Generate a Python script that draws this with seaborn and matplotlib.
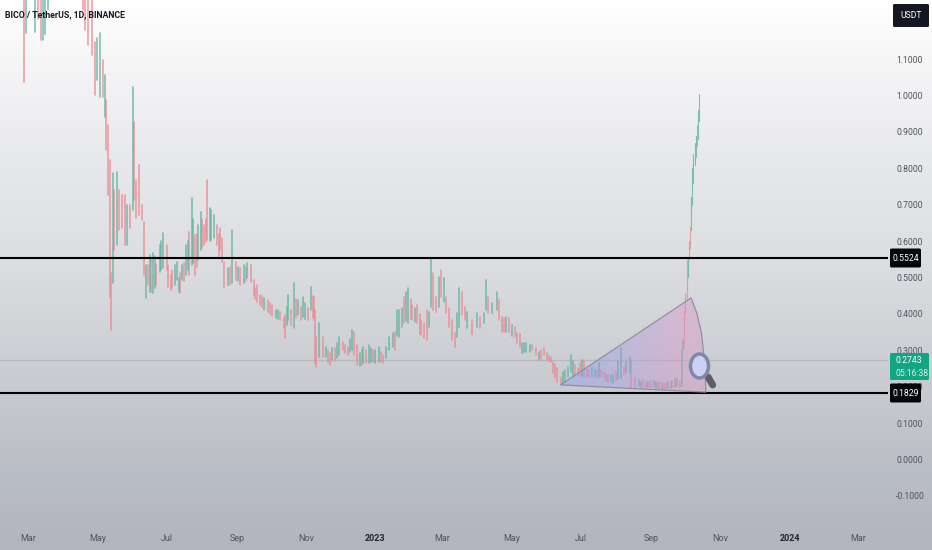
import numpy as np
import pandas as pd
import seaborn as sns
import matplotlib.pyplot as plt
from matplotlib.patches import Polygon, FancyBboxPatch, Ellipse

sns.set_theme(style="white")
plt.rcParams["font.family"] = ["Roboto", "DejaVu Sans"]

# candles, day = days after 2022-03-01
day = [-4, -2, 6, 9, 11, 13, 15, 18, 48, 50, 53, 56, 59, 61, 63, 66, 68, 69, 70, 72, 73, 75, 76, 78, 80, 83, 85, 87, 90, 92,
       93, 95, 98, 100, 102, 104, 106, 107, 110, 113, 116, 119, 122, 123, 126, 129, 131, 134, 136, 139, 142, 144, 147, 150, 152,
       155, 157, 158, 161, 164, 166, 169, 171, 173, 176, 180, 183, 187, 190, 193, 196, 199, 202, 204, 208, 211, 215, 218, 222, 225,
       226, 229, 232, 234, 238, 240, 242, 247, 249, 252, 253, 254, 256, 260, 262, 266, 268, 270, 274, 277, 282, 285, 287, 290, 292,
       295, 298, 300, 304, 306, 309, 313, 315, 318, 321, 323, 327, 329, 331, 335, 338, 341, 343, 346, 349, 351, 353, 355, 357, 359,
       362, 364, 366, 368, 371, 373, 376, 378, 380, 382, 385, 387, 391, 395, 398, 402, 403, 405, 409, 413, 415, 417, 421, 424, 429,
       431, 435, 439, 444, 447, 450, 454, 457, 461, 462, 466, 469, 473, 476, 478, 482, 484, 488, 490, 494, 497, 501, 503, 507, 511,
       515, 518, 522, 525, 527, 530, 531, 535, 538, 542, 545, 549, 553, 556, 560, 564, 567, 572, 574, 576, 577, 578, 579, 580, 581,
       582, 583, 584, 585, 586, 587, 588, 589, 590, 591]
high = [1.40, 1.35, 1.35, 1.35, 1.35, 1.35, 1.35, 1.35, 1.50, 1.45, 1.40, 1.30, 1.147, 1.158, 1.172, 1.097, 1.056, 0.987, 0.919, 0.823, 0.512, 0.787, 0.74, 0.79, 0.74, 0.727, 0.727, 0.70, 0.70, 1.023,
        0.927, 0.768, 0.809, 0.70, 0.653, 0.534, 0.534, 0.562, 0.567, 0.534, 0.589, 0.622, 0.589, 0.534, 0.507, 0.534, 0.543, 0.512, 0.534, 0.589, 0.625, 0.718, 0.617, 0.644, 0.68,
        0.644, 0.66, 0.768, 0.686, 0.672, 0.644, 0.636, 0.609, 0.543, 0.526, 0.63, 0.543, 0.526, 0.534, 0.54, 0.534, 0.493, 0.48, 0.452, 0.444, 0.438, 0.424, 0.411, 0.405, 0.389,
        0.397, 0.452, 0.411, 0.485, 0.438, 0.419, 0.446, 0.416, 0.474, 0.446, 0.411, 0.337, 0.375, 0.337, 0.309, 0.293, 0.306, 0.306, 0.337, 0.323, 0.309, 0.356, 0.35, 0.315, 0.293,
        0.309, 0.301, 0.315, 0.301, 0.301, 0.309, 0.287, 0.309, 0.337, 0.348, 0.35, 0.411, 0.416, 0.446, 0.471, 0.424, 0.416, 0.424, 0.383, 0.375, 0.411, 0.405, 0.553, 0.512, 0.446,
        0.501, 0.52, 0.499, 0.446, 0.416, 0.383, 0.348, 0.402, 0.471, 0.46, 0.419, 0.405, 0.383, 0.402, 0.391, 0.402, 0.493, 0.446, 0.43, 0.46, 0.438, 0.391, 0.391, 0.389, 0.364,
        0.348, 0.32, 0.32, 0.315, 0.306, 0.295, 0.306, 0.293, 0.282, 0.268, 0.251, 0.227, 0.246, 0.254, 0.287, 0.26, 0.251, 0.273, 0.273, 0.246, 0.251, 0.246, 0.265, 0.24, 0.232,
        0.232, 0.24, 0.306, 0.254, 0.268, 0.282, 0.273, 0.224, 0.218, 0.218, 0.213, 0.216, 0.213, 0.213, 0.207, 0.213, 0.216, 0.224, 0.216, 0.301, 0.328, 0.411, 0.457, 0.548, 0.556,
        0.60, 0.64, 0.72, 0.80, 0.84, 0.87, 0.89, 0.92, 0.96, 1.005]
low = [1.037, 1.172, 1.174, 1.21, 1.152, 1.152, 1.17, 1.235, 1.235, 1.18, 1.139, 1.111, 1.001, 1.043, 0.996, 0.996, 0.941, 0.85, 0.727, 0.446, 0.356, 0.485, 0.576, 0.59, 0.63, 0.636, 0.59, 0.59, 0.636, 0.686,
       0.713, 0.663, 0.672, 0.658, 0.507, 0.444, 0.48, 0.46, 0.457, 0.48, 0.515, 0.526, 0.52, 0.474, 0.466, 0.48, 0.493, 0.457, 0.493, 0.507, 0.507, 0.534, 0.507, 0.548, 0.576,
       0.589, 0.598, 0.603, 0.603, 0.609, 0.589, 0.575, 0.543, 0.471, 0.48, 0.485, 0.493, 0.48, 0.485, 0.499, 0.488, 0.452, 0.433, 0.424, 0.411, 0.405, 0.394, 0.389, 0.383, 0.361,
       0.334, 0.383, 0.369, 0.361, 0.397, 0.383, 0.391, 0.383, 0.411, 0.383, 0.265, 0.254, 0.282, 0.282, 0.282, 0.26, 0.273, 0.273, 0.287, 0.301, 0.287, 0.301, 0.287, 0.26, 0.257,
       0.265, 0.265, 0.265, 0.268, 0.265, 0.268, 0.265, 0.279, 0.301, 0.309, 0.301, 0.337, 0.364, 0.375, 0.375, 0.383, 0.378, 0.375, 0.342, 0.334, 0.328, 0.364, 0.419, 0.411, 0.405,
       0.419, 0.446, 0.433, 0.402, 0.364, 0.328, 0.309, 0.337, 0.364, 0.397, 0.383, 0.361, 0.342, 0.364, 0.361, 0.375, 0.411, 0.402, 0.402, 0.411, 0.383, 0.35, 0.35, 0.35, 0.337,
       0.32, 0.293, 0.295, 0.301, 0.287, 0.273, 0.287, 0.273, 0.268, 0.238, 0.213, 0.207, 0.213, 0.227, 0.24, 0.232, 0.232, 0.227, 0.227, 0.227, 0.227, 0.224, 0.227, 0.224, 0.213,
       0.21, 0.218, 0.224, 0.232, 0.238, 0.238, 0.196, 0.196, 0.202, 0.199, 0.199, 0.199, 0.196, 0.196, 0.193, 0.196, 0.199, 0.202, 0.199, 0.202, 0.301, 0.309, 0.402, 0.438, 0.501,
       0.55, 0.58, 0.63, 0.70, 0.76, 0.81, 0.83, 0.86, 0.88, 0.93]
direction = [0, 1, 1, 0, 0, 1, 1, 1, 0, 0, 0, 0, 0, 1, 1, 0, 1, 0, 0, 0, 0, 1, 0, 1, 0, 0, 0, 1, 0, 1,
             0, 0, 0, 0, 0, 1, 0, 1, 1, 0, 1, 1, 0, 0, 0, 1, 1, 0, 1, 1, 0, 1, 0, 1, 1,
             0, 0, 0, 1, 1, 0, 0, 0, 0, 1, 1, 0, 0, 1, 1, 0, 0, 0, 0, 1, 0, 0, 1, 0, 0,
             0, 1, 0, 1, 1, 0, 1, 0, 1, 0, 0, 0, 1, 0, 1, 0, 1, 0, 1, 0, 0, 1, 0, 0, 1,
             1, 0, 1, 0, 1, 1, 0, 1, 1, 1, 0, 1, 1, 0, 1, 0, 1, 0, 0, 0, 0, 1, 1, 0, 0,
             1, 0, 1, 0, 0, 0, 0, 1, 1, 0, 0, 1, 0, 1, 0, 1, 1, 0, 1, 1, 0, 0, 1, 0, 0,
             0, 1, 1, 0, 0, 1, 0, 0, 0, 0, 0, 0, 1, 1, 1, 0, 0, 1, 0, 0, 1, 0, 1, 0, 0,
             1, 0, 1, 0, 1, 1, 0, 0, 1, 0, 1, 0, 1, 0, 0, 1, 0, 1, 0, 1, 1, 0, 0, 0, 1,
             0, 0, 1, 1, 1, 1, 1, 0, 1, 1]

# extra candles in the dense stretches
extra_day = [108, 112, 117, 127, 133, 137, 141, 145, 149, 153, 160, 168, 178, 185, 192, 200, 206, 213, 220, 228, 236, 244, 251,
             264, 272, 279, 284, 294, 302, 311, 325, 333, 337, 345, 419, 426, 433, 437, 442, 452, 459, 464, 471, 480, 486,
             492, 499, 505, 509, 513, 520, 540, 544, 547, 551, 555, 558, 562, 566, 570]
extra_high = [0.55, 0.56, 0.60, 0.52, 0.50, 0.54, 0.60, 0.66, 0.62, 0.66, 0.69, 0.62, 0.53, 0.53, 0.53, 0.47, 0.45, 0.43, 0.41, 0.42, 0.44, 0.43, 0.45,
              0.30, 0.32, 0.315, 0.33, 0.30, 0.305, 0.295, 0.41, 0.46, 0.44, 0.40, 0.39, 0.37, 0.345, 0.32, 0.315, 0.30, 0.285, 0.262, 0.24, 0.27, 0.265,
              0.25, 0.25, 0.245, 0.236, 0.232, 0.27, 0.214, 0.212, 0.214, 0.215, 0.212, 0.21, 0.21, 0.214, 0.22]
extra_low = [0.46, 0.47, 0.52, 0.47, 0.46, 0.49, 0.52, 0.54, 0.53, 0.58, 0.60, 0.56, 0.48, 0.49, 0.49, 0.44, 0.42, 0.40, 0.385, 0.37, 0.39, 0.385, 0.39,
             0.268, 0.28, 0.292, 0.295, 0.26, 0.268, 0.268, 0.34, 0.38, 0.385, 0.345, 0.35, 0.34, 0.31, 0.295, 0.295, 0.275, 0.27, 0.225, 0.208, 0.23, 0.23,
             0.228, 0.226, 0.226, 0.216, 0.212, 0.222, 0.199, 0.198, 0.20, 0.198, 0.196, 0.195, 0.194, 0.197, 0.20]
extra_direction = [0, 1, 1, 0, 1, 0, 1, 1, 0, 0, 1, 0, 0, 1, 0, 0, 0, 0, 1, 1, 0, 1, 0,
                   0, 1, 0, 1, 0, 1, 0, 1, 1, 0, 0, 0, 1, 0, 1, 1, 0, 0, 0, 1, 1, 0,
                   0, 1, 0, 0, 1, 1, 1, 0, 0, 1, 0, 1, 0, 1, 1]

level_prices = [0.5524, 0.1829]
last_price = 0.2743
price_ticks = [1.1, 1.0, 0.9, 0.8, 0.7, 0.6, 0.5, 0.4, 0.3, 0.2, 0.1, 0.0, -0.1]
month_dates = ["2022-03-01", "2022-05-01", "2022-07-01", "2022-09-01", "2022-11-01", "2023-01-01", "2023-03-01",
               "2023-05-01", "2023-07-01", "2023-09-01", "2023-11-01", "2024-01-01", "2024-03-01"]
month_labels = ["Mar", "May", "Jul", "Sep", "Nov", "2023", "Mar", "May", "Jul", "Sep", "Nov", "2024", "Mar"]

# drawn fan shape
fan_days = [469, 584, 589, 593, 596, 597]
fan_prices = [0.205, 0.444, 0.402, 0.35, 0.265, 0.185]

start = pd.Timestamp("2022-03-01")
to_date = lambda d: start + pd.Timedelta(days=d)

fig = plt.figure(figsize=(9.32, 5.5), dpi=100)

# background gradient over the whole picture
bg = fig.add_axes([0, 0, 1, 1], zorder=0)
shades = np.array([[1.0, 1.0, 1.0], [0.96, 0.96, 0.965], [0.905, 0.91, 0.92], [0.865, 0.87, 0.88],
                   [0.785, 0.795, 0.815], [0.725, 0.74, 0.77], [0.70, 0.71, 0.745]])
stops = np.array([0, 0.12, 0.3, 0.47, 0.7, 0.87, 1.0])
rows = np.linspace(0, 1, 256)
grad = np.stack([np.interp(rows, stops, shades[:, i]) for i in range(3)], axis=1)[:, None, :]
bg.imshow(grad, aspect="auto", extent=[0, 1, 0, 1])
bg.axis("off")

ax = fig.add_axes([0, 40 / 550, 888 / 932, 510 / 550], zorder=1)
ax.patch.set_alpha(0)

# candles as long table, one unit per wick
frame = pd.DataFrame({"day": day + extra_day, "high": high + extra_high, "low": low + extra_low,
                      "up": direction + extra_direction})
frame = frame.sort_values("day").reset_index(drop=True)
frame["candle"] = frame.index
frame["date"] = frame["day"].map(to_date)
frame["side"] = frame["up"].map({1: "up", 0: "down"})
long = frame.melt(id_vars=["candle", "day", "date", "side"], value_vars=["high", "low"], value_name="price")
candle_colors = {"up": "#62b3a2", "down": "#e98a92"}
sns.lineplot(data=long[long["day"] < 578], x="date", y="price", hue="side", units="candle", estimator=None,
             palette=candle_colors, linewidth=1.2, alpha=0.8, legend=False, ax=ax, zorder=3)
# the last run up is thinner
sns.lineplot(data=long[long["day"] >= 578], x="date", y="price", hue="side", units="candle", estimator=None,
             palette=candle_colors, linewidth=0.8, alpha=0.8, legend=False, ax=ax, zorder=3)

# levels
ax.axhline(last_price, color="#b6babd", linewidth=1, zorder=2)
for lv in level_prices:
    ax.axhline(lv, color="black", linewidth=1.5, zorder=5)

ax.set_xlim(to_date(-24.7), to_date(757.4))
ax.set_ylim(-0.1387, 1.2624)

# fan with blue to pink fill
fan_x = [to_date(d) for d in fan_days]
fan = Polygon(np.column_stack([pd.to_datetime(fan_x).map(lambda t: ax.xaxis.convert_units(t)), fan_prices]),
              closed=True, facecolor="none", edgecolor="#8a8aa2", linewidth=0.9, zorder=6, transform=ax.transData, alpha=0.9)
ax.add_patch(fan)
fan_colors = np.array([[[0.58, 0.62, 0.92, 0.45], [0.70, 0.60, 0.88, 0.42], [0.86, 0.58, 0.78, 0.42]]])
x0, x1 = ax.xaxis.convert_units(to_date(469)), ax.xaxis.convert_units(to_date(597))
img = ax.imshow(fan_colors, aspect="auto", extent=[x0, x1, 0.18, 0.45], zorder=4, interpolation="bilinear")
img.set_clip_path(fan)
ax.set_xlim(to_date(-24.7), to_date(757.4))
ax.set_ylim(-0.1387, 1.2624)

# magnifier handle
ax.plot([to_date(599), to_date(603)], [0.2266, 0.2047], color="#5a6066", linewidth=5, solid_capstyle="round", zorder=7)

# axes text
sns.despine(ax=ax, left=True, bottom=True, right=True, top=True)
ax.set_xlabel("")
ax.set_ylabel("")
ax.yaxis.tick_right()
ax.set_yticks(price_ticks)
ax.set_yticklabels([f"{p:.4f}" for p in price_ticks])
ax.set_xticks([pd.Timestamp(m) for m in month_dates])
ax.set_xticklabels(month_labels)
ax.tick_params(axis="y", length=0, pad=5.8, labelsize=6.2, labelcolor="#50535e", labelright=True, labelleft=False)
ax.tick_params(axis="x", length=0, pad=17, labelsize=6.5, labelcolor="#50535e")
ax.grid(False)
for lab, text in zip(ax.get_xticklabels(), month_labels):
    if text.startswith("20"):
        lab.set_color("#20232c")
        lab.set_fontweight("bold")

# overlay for boxes and header, in picture pixels
top = fig.add_axes([0, 0, 1, 1], zorder=2)
top.set_xlim(0, 932)
top.set_ylim(550, 0)
top.axis("off")
top.text(5, 15, "BICO / TetherUS, 1D, BINANCE", fontsize=6.3, color="#131722", va="center", ha="left", fontweight="bold")

# magnifier glass
top.add_patch(Ellipse((699.5, 366), 18, 24, facecolor="#cdd0f5", edgecolor="#8088a8", linewidth=2.5))


def tag(x, y, w, h, color):
    top.add_patch(FancyBboxPatch((x, y), w, h, boxstyle="round,pad=0,rounding_size=1.5", facecolor=color, edgecolor="none"))


tag(890, 248.5, 31, 19, "#05060a")
top.text(905.5, 258.5, "0.5524", color="white", fontsize=6.2, ha="center", va="center")
tag(890, 383.5, 31, 19, "#05060a")
top.text(905.5, 393.5, "0.1829", color="white", fontsize=6.2, ha="center", va="center")
tag(890, 353, 39, 27, "#12a584")
top.text(895, 360.5, "0.2743", color="white", fontsize=6.2, ha="left", va="center")
top.text(895, 373, "05:16:38", color="#d6efe8", fontsize=6.2, ha="left", va="center")
tag(893, 4, 36, 23, "#131722")
top.text(911, 15.5, "USDT", color="white", fontsize=6.2, ha="center", va="center")

fig.savefig("out.png", dpi=100)
